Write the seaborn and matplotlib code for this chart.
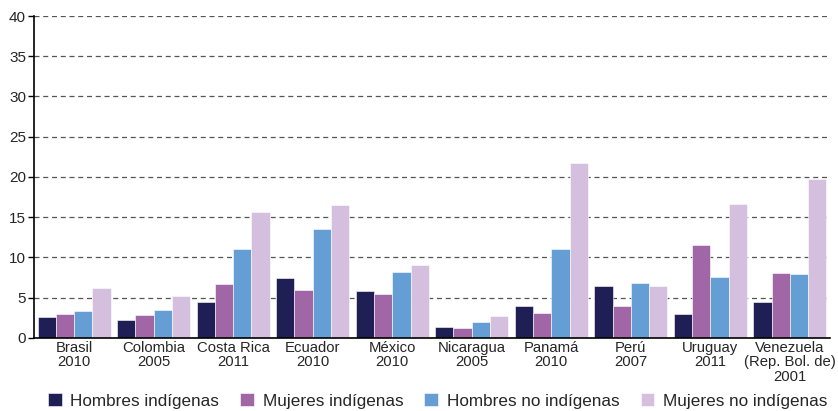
import pandas as pd
import numpy as np
import matplotlib.pyplot as plt
import seaborn as sns

paises = ["Brasil\n2010", "Colombia\n2005", "Costa Rica\n2011", "Ecuador\n2010",
          "México\n2010", "Nicaragua\n2005", "Panamá\n2010", "Perú\n2007",
          "Uruguay\n2011", "Venezuela\n(Rep. Bol. de)\n2001"]
series = ["Hombres indígenas", "Mujeres indígenas", "Hombres no indígenas", "Mujeres no indígenas"]
hombres_ind = [2.6, 2.2, 4.4, 7.4, 5.8, 1.4, 4.0, 6.5, 3.0, 4.4]
mujeres_ind = [3.0, 2.9, 6.7, 6.0, 5.4, 1.2, 3.1, 4.0, 11.5, 8.0]
hombres_no = [3.3, 3.4, 11.0, 13.5, 8.2, 2.0, 11.0, 6.8, 7.6, 7.9]
mujeres_no = [6.2, 5.2, 15.7, 16.5, 9.1, 2.7, 21.7, 6.4, 16.6, 19.7]
colores = ["#1f1f55", "#a066a6", "#659ed4", "#d4c0de"]

filas = []
for s, vals in zip(series, [hombres_ind, mujeres_ind, hombres_no, mujeres_no]):
    for p, v in zip(paises, vals):
        filas.append({"pais": p, "serie": s, "valor": v})
df = pd.DataFrame(filas)

sns.set_style("white")
plt.rcParams["font.family"] = ["Liberation Sans", "DejaVu Sans"]

fig = plt.figure(figsize=(8.38, 4.11), dpi=100)
ax = fig.add_axes([0.041, 0.178, 0.949, 0.783])
sns.barplot(data=df, x="pais", y="valor", hue="serie", palette=colores,
            width=0.92, saturation=1, ax=ax, edgecolor="white", linewidth=0.4)

ax.set_ylim(0, 40)
ax.set_xlim(-0.5, len(paises) - 0.5)
ax.set_yticks(range(0, 41, 5))
ax.yaxis.grid(True, linestyle=(0, (4, 3)), color="#555555", linewidth=0.9)
ax.set_axisbelow(True)
ax.set_xlabel("")
ax.set_ylabel("")
for s in ["top", "right"]:
    ax.spines[s].set_visible(False)
for s in ["left", "bottom"]:
    ax.spines[s].set_color("black")
    ax.spines[s].set_linewidth(1.2)
ax.tick_params(axis="x", which="major", length=0, labelsize=10.7, pad=2)
ax.set_xticks(np.arange(-0.5, len(paises), 1), minor=True)
ax.tick_params(axis="x", which="minor", length=4, width=1, color="black", direction="out")
ax.tick_params(axis="y", length=4, width=1, color="black", labelsize=11, pad=2, left=True)
for lbl in ax.get_xticklabels():
    lbl.set_linespacing(1.05)

handles, labels = ax.get_legend_handles_labels()
ax.legend(handles, labels, loc="center", bbox_to_anchor=(0.507, -0.196),
          ncol=4, frameon=False, fontsize=12.3, handlelength=0.8, handleheight=0.8,
          columnspacing=1.25, handletextpad=0.5, borderpad=0)

fig.savefig("out.png", dpi=100)
